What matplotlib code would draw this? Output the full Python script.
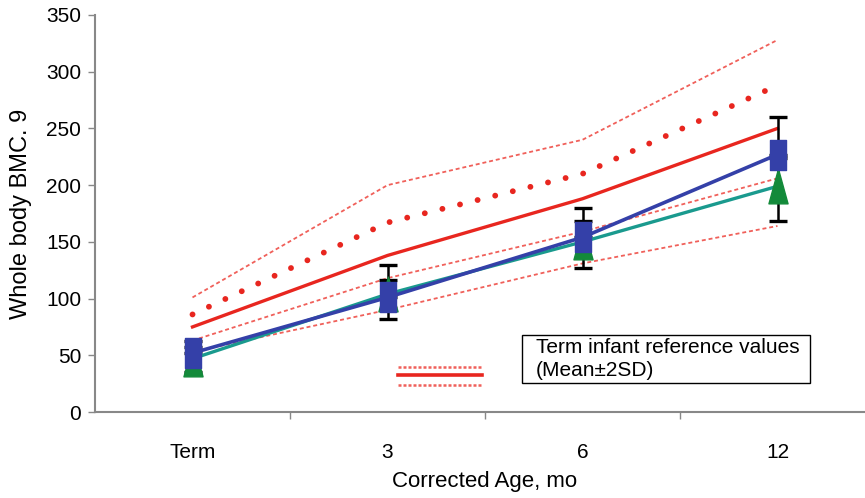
import matplotlib
matplotlib.use("Agg")
import matplotlib.pyplot as plt
from matplotlib.path import Path
from matplotlib.lines import Line2D
from matplotlib.patches import Rectangle
import numpy as np

plt.rcParams['font.family'] = ['Liberation Sans', 'DejaVu Sans']

categories = ["Term", "3", "6", "12"]

# Reference (term infant) lines
ref_upper2 = [101, 200, 240, 328]     # thin dashed top
ref_dotted = [86, 167, 210, 288]      # big dotted
ref_mean = [75, 138, 188, 250]        # solid mean
ref_lowerA = [63, 118, 159, 206]      # thin dashed lower A
ref_lowerB = [53, 90, 131, 164]       # thin dashed lower B

# Study groups
blue_vals = [52, 101, 154, 227]
blue_err_hi = [11, 29, 26, 33]
green_vals = [47, 104, 150, 199]
green_err_lo = [12, 22, 23, 31]
green_err_hi = [10, 12, 18, 25]

x = np.arange(len(categories))

fig = plt.figure(figsize=(8.65, 4.98), dpi=100)
ax = fig.add_axes([95/865, 86/498, 780/865, 397/498])

red = "#E8261F"
pink = "#F0605A"
thin_dash = (0, (2.2, 1.6))

ax.plot(x, ref_upper2, color=pink, lw=1.3, linestyle=thin_dash, zorder=2)
ax.plot(x, ref_lowerA, color=pink, lw=1.3, linestyle=thin_dash, zorder=2)
ax.plot(x, ref_lowerB, color=pink, lw=1.3, linestyle=thin_dash, zorder=2)
ax.plot(x, ref_dotted, color=red, lw=4.2, linestyle=(0, (0.01, 3.1)),
        dash_capstyle='round', zorder=2)
ax.plot(x, ref_mean, color=red, lw=2.4, zorder=2)

# markers: tall rectangle and tall triangle
rect = Path([(-0.5, -1), (0.5, -1), (0.5, 1), (-0.5, 1), (-0.5, -1)],
            [Path.MOVETO, Path.LINETO, Path.LINETO, Path.LINETO, Path.CLOSEPOLY])
tri = Path([(-0.55, -1), (0.55, -1), (0, 1), (-0.55, -1)],
           [Path.MOVETO, Path.LINETO, Path.LINETO, Path.CLOSEPOLY])

ax.errorbar(x, green_vals, yerr=[green_err_lo, green_err_hi], fmt='none',
            ecolor='black', elinewidth=1.8, capsize=6.5, capthick=2.4, zorder=3)
ax.errorbar(x, blue_vals, yerr=[np.zeros(len(x)), blue_err_hi], fmt='none',
            ecolor='black', elinewidth=1.8, capsize=6.5, capthick=2.4, zorder=3)

ax.plot(x, green_vals, color="#1A9A8E", lw=2.4, zorder=4)
ax.plot(x, green_vals, linestyle='none', marker=tri, markersize=25,
        markerfacecolor="#138A3A", markeredgecolor="#138A3A", zorder=5)
ax.plot(x, blue_vals, color="#3440A8", lw=2.6, zorder=6)
ax.plot(x, blue_vals, linestyle='none', marker=rect, markersize=22,
        markerfacecolor="#3440A8", markeredgecolor="#3440A8", zorder=7)

ax.set_xlim(-0.5, 3.5)
ax.set_ylim(0, 350)
ax.set_yticks(np.arange(0, 351, 50))
ax.set_xticks([0.5, 1.5, 2.5])
ax.set_xticklabels([])
ax.set_xticks(x, minor=True)
ax.set_xticklabels(categories, minor=True)
ax.tick_params(axis='x', which='minor', length=0, pad=22, labelsize=15)
ax.tick_params(axis='x', which='major', length=5, color='#888888', width=1)
ax.tick_params(axis='y', length=5, color='#888888', width=1, labelsize=15, pad=5)

for s in ['top', 'right']:
    ax.spines[s].set_visible(False)
for s in ['left', 'bottom']:
    ax.spines[s].set_color('#888888')
    ax.spines[s].set_linewidth(1.5)

ax.set_ylabel("Whole body BMC. 9", fontsize=17, labelpad=10)
ax.set_xlabel("Corrected Age, mo", fontsize=16, labelpad=7)

# Legend sample lines (figure coords)
x0, x1 = 398/865, 482/865
fig.add_artist(Line2D([x0, x1], [1-367/498]*2, color=pink, lw=1.8,
                      linestyle=(0, (1.2, 0.8))))
fig.add_artist(Line2D([x0, x1], [1-375/498]*2, color=red, lw=2.6))
fig.add_artist(Line2D([x0, x1], [1-385/498]*2, color=pink, lw=1.8,
                      linestyle=(0, (1.2, 0.8))))

# Legend text box
fig.add_artist(Rectangle((522/865, 1-383/498), (810-522)/865, (383-335)/498,
                         transform=fig.transFigure, fill=False,
                         edgecolor='black', lw=1.0))
fig.text(536/865, 1-359/498, "Term infant reference values\n(Mean\u00b12SD)",
         fontsize=15, va='center', ha='left', linespacing=1.3)

fig.savefig("out.png", dpi=100)
